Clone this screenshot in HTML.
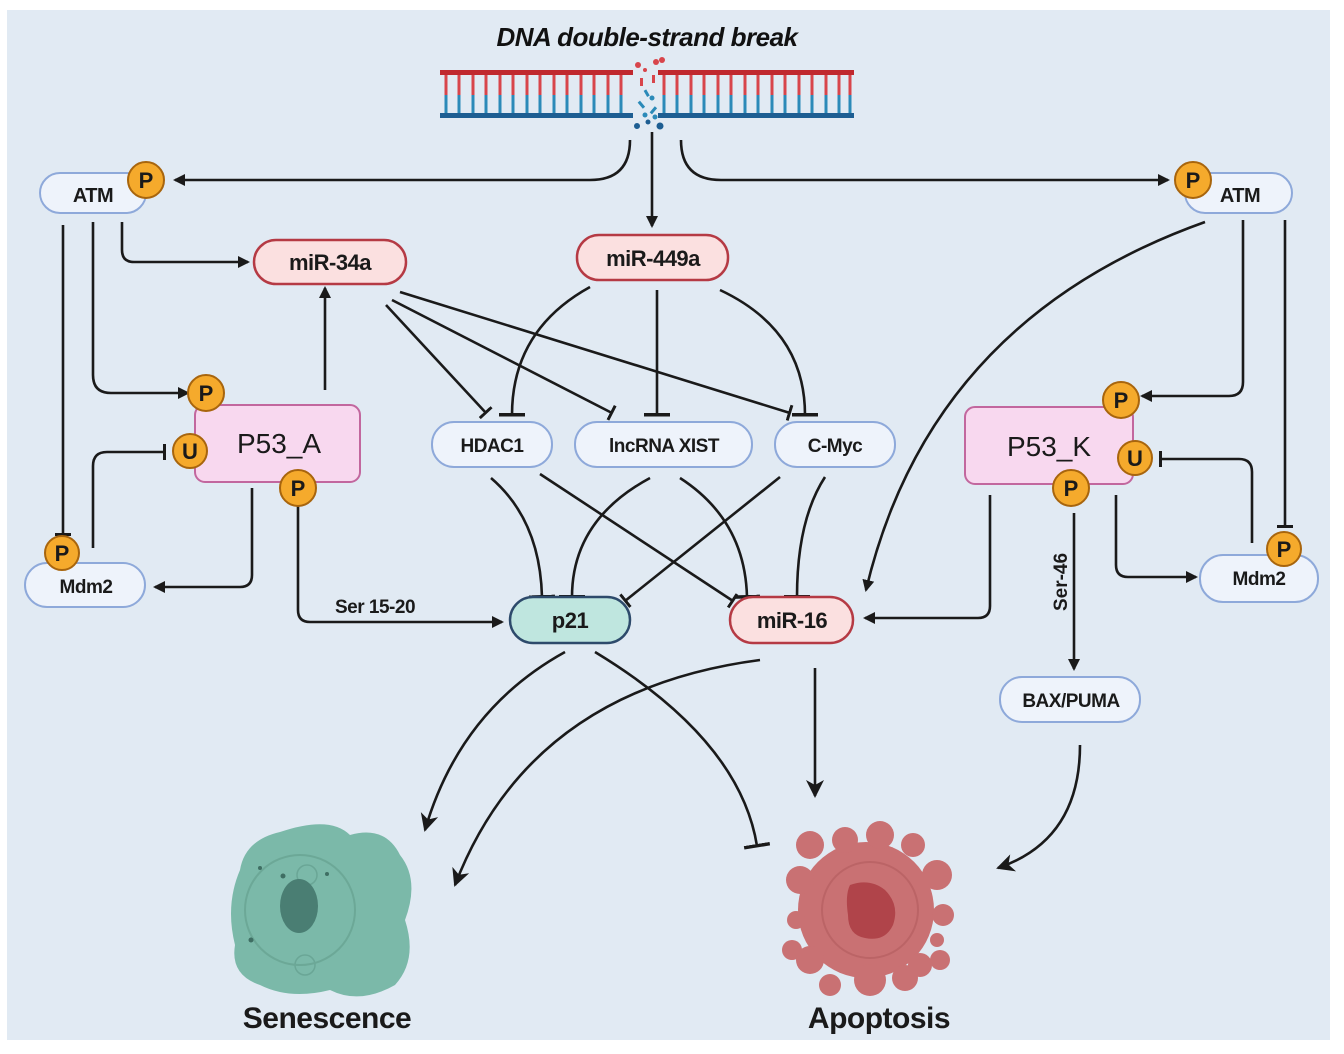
<!DOCTYPE html>
<html><head><meta charset="utf-8"><style>
html,body{margin:0;padding:0;background:#fff;}
svg{display:block;}
text{font-family:"Liberation Sans",sans-serif;}
</style></head><body>
<svg width="1344" height="1054" viewBox="0 0 1344 1054" xmlns="http://www.w3.org/2000/svg">
<defs>
<marker id="a" markerWidth="12" markerHeight="12" refX="10" refY="6" orient="auto" markerUnits="userSpaceOnUse"><path d="M0,0 L12,6 L0,12 Z" fill="#1a1a1a"/></marker>
<marker id="A" markerWidth="20" markerHeight="20" refX="16" refY="10" orient="auto" markerUnits="userSpaceOnUse"><path d="M0,1 L18,10 L0,19 L5,10 Z" fill="#1a1a1a"/></marker>
<marker id="t" markerWidth="4" markerHeight="20" refX="2" refY="10" orient="auto" markerUnits="userSpaceOnUse"><rect x="0" y="2" width="3" height="16" fill="#1a1a1a"/></marker>
<marker id="T" markerWidth="4" markerHeight="28" refX="2" refY="14" orient="auto" markerUnits="userSpaceOnUse"><rect x="0" y="1" width="3.5" height="26" fill="#1a1a1a"/></marker>
</defs>
<rect x="7" y="10" width="1323" height="1030" fill="#e1eaf3"/>

<text x="647" y="46" text-anchor="middle" font-size="26" font-weight="bold" font-style="italic" fill="#111" letter-spacing="-0.5">DNA double-strand break</text>
<g id="dna">
<rect x="440" y="70" width="193" height="5" fill="#c0282e"/>
<rect x="658" y="70" width="196" height="5" fill="#c0282e"/>
<rect x="440" y="113" width="193" height="5" fill="#1d5e92"/>
<rect x="658" y="113" width="196" height="5" fill="#1d5e92"/>
<g stroke-width="3">
<path stroke="#d8454b" d="M446,75V95M459,75V95M473,75V95M486,75V95M500,75V95M513,75V95M527,75V95M540,75V95M554,75V95M567,75V95M581,75V95M594,75V95M608,75V95M621,75V95M664,75V95M677,75V95M691,75V95M704,75V95M718,75V95M731,75V95M745,75V95M758,75V95M772,75V95M785,75V95M799,75V95M812,75V95M826,75V95M839,75V95M850,75V95"/>
<path stroke="#2b8ab8" d="M446,95V113M459,95V113M473,95V113M486,95V113M500,95V113M513,95V113M527,95V113M540,95V113M554,95V113M567,95V113M581,95V113M594,95V113M608,95V113M621,95V113M664,95V113M677,95V113M691,95V113M704,95V113M718,95V113M731,95V113M745,95V113M758,95V113M772,95V113M785,95V113M799,95V113M812,95V113M826,95V113M839,95V113M850,95V113"/>
</g>
<g fill="#d8454b"><circle cx="638" cy="65" r="3"/><circle cx="656" cy="62" r="3"/><circle cx="645" cy="70" r="2"/><rect x="640" y="78" width="3" height="8"/><rect x="652" y="75" width="3" height="8"/><circle cx="662" cy="60" r="3"/></g>
<g fill="#2b8ab8"><rect x="645" y="90" width="3" height="7" transform="rotate(-30 646 93)"/><circle cx="652" cy="98" r="2.5"/><rect x="640" y="101" width="3" height="8" transform="rotate(-40 641 105)"/><rect x="652" y="106" width="3" height="8" transform="rotate(40 653 110)"/><circle cx="645" cy="115" r="2.5"/><circle cx="655" cy="117" r="2.5"/></g>
<g fill="#1d5e92"><circle cx="637" cy="126" r="3"/><circle cx="660" cy="126" r="3.5"/><circle cx="648" cy="122" r="2.5"/></g>
</g>

<g fill="none" stroke="#1a1a1a" stroke-width="2.6">
<path d="M630,140 Q630,180 590,180 L175,180" marker-end="url(#a)"/>
<path d="M652,132 L652,226" marker-end="url(#a)"/>
<path d="M681,140 Q681,180 721,180 L1168,180" marker-end="url(#a)"/>
<path d="M63,225 L63,535" marker-end="url(#t)"/>
<path d="M93,222 L93,375 Q93,393 111,393 L188,393" marker-end="url(#a)"/>
<path d="M122,222 L122,250 Q122,262 134,262 L248,262" marker-end="url(#a)"/>
<path d="M325,390 L325,288" marker-end="url(#a)"/>
<path d="M93,548 L93,466 Q93,452 107,452 L165,452" marker-end="url(#t)"/>
<path d="M252,488 L252,575 Q252,587 240,587 L155,587" marker-end="url(#a)"/>
<path d="M298,505 L298,610 Q298,622 310,622 L502,622" marker-end="url(#a)"/>
<path d="M386,305 L486,413" marker-end="url(#t)"/>
<path d="M392,300 L612,413" marker-end="url(#t)"/>
<path d="M400,292 L790,413" marker-end="url(#t)"/>
<path d="M590,287 Q512,330 512,415" marker-end="url(#T)"/>
<path d="M657,290 L657,415" marker-end="url(#T)"/>
<path d="M720,290 Q805,330 805,415" marker-end="url(#T)"/>
<path d="M491,478 Q540,520 542,597" marker-end="url(#T)"/>
<path d="M540,474 L733,601" marker-end="url(#t)"/>
<path d="M650,478 Q572,520 572,597" marker-end="url(#T)"/>
<path d="M680,478 Q745,520 747,597" marker-end="url(#T)"/>
<path d="M780,477 L625,601" marker-end="url(#t)"/>
<path d="M825,477 Q797,520 797,597" marker-end="url(#T)"/>
<path d="M1205,222 Q930,320 866,590" marker-end="url(#a)"/>
<path d="M1243,220 L1243,382 Q1243,396 1229,396 L1142,396" marker-end="url(#a)"/>
<path d="M1285,220 L1285,527" marker-end="url(#t)"/>
<path d="M1252,543 L1252,472 Q1252,459 1239,459 L1160,459" marker-end="url(#t)"/>
<path d="M1116,495 L1116,565 Q1116,577 1128,577 L1196,577" marker-end="url(#a)"/>
<path d="M990,495 L990,606 Q990,618 978,618 L865,618" marker-end="url(#a)"/>
<path d="M1074,513 L1074,669" marker-end="url(#a)"/>
<path d="M565,652 Q460,710 425,830" marker-end="url(#A)"/>
<path d="M760,660 Q530,690 455,885" marker-end="url(#A)"/>
<path d="M595,652 Q740,740 757,846" marker-end="url(#T)"/>
<path d="M815,668 L815,796" marker-end="url(#A)"/>
<path d="M1080,745 Q1080,840 998,868" marker-end="url(#A)"/>
</g>

<g font-weight="bold" text-anchor="middle" fill="#1a1a1a" letter-spacing="-0.5">
<rect x="40" y="173" width="106" height="40" rx="20" fill="#eef3fb" stroke="#8ea9da" stroke-width="2"/>
<text x="93" y="202" font-size="20">ATM</text>
<rect x="1185" y="173" width="107" height="40" rx="20" fill="#eef3fb" stroke="#8ea9da" stroke-width="2"/>
<text x="1240" y="202" font-size="20">ATM</text>
<rect x="254" y="240" width="152" height="44" rx="22" fill="#fbe0e0" stroke="#b53a44" stroke-width="2.5"/>
<text x="330" y="270" font-size="22">miR-34a</text>
<rect x="577" y="235" width="151" height="45" rx="22" fill="#fbe0e0" stroke="#b53a44" stroke-width="2.5"/>
<text x="653" y="266" font-size="22">miR-449a</text>
<rect x="432" y="422" width="120" height="45" rx="22" fill="#eef3fb" stroke="#8ea9da" stroke-width="2"/>
<text x="492" y="452" font-size="19">HDAC1</text>
<rect x="575" y="422" width="177" height="45" rx="22" fill="#eef3fb" stroke="#8ea9da" stroke-width="2"/>
<text x="664" y="452" font-size="19">lncRNA XIST</text>
<rect x="775" y="422" width="120" height="45" rx="22" fill="#eef3fb" stroke="#8ea9da" stroke-width="2"/>
<text x="835" y="452" font-size="19">C-Myc</text>
<rect x="510" y="597" width="120" height="46" rx="23" fill="#bfe6df" stroke="#2d4a6b" stroke-width="2.5"/>
<text x="570" y="628" font-size="22">p21</text>
<rect x="730" y="597" width="123" height="46" rx="23" fill="#fbe0e0" stroke="#b53a44" stroke-width="2.5"/>
<text x="792" y="628" font-size="22">miR-16</text>
<rect x="25" y="563" width="120" height="44" rx="22" fill="#eef3fb" stroke="#8ea9da" stroke-width="2"/>
<text x="86" y="593" font-size="19">Mdm2</text>
<rect x="1200" y="555" width="118" height="47" rx="23" fill="#eef3fb" stroke="#8ea9da" stroke-width="2"/>
<text x="1259" y="585" font-size="19">Mdm2</text>
<rect x="1000" y="677" width="140" height="45" rx="22" fill="#eef3fb" stroke="#8ea9da" stroke-width="2"/>
<text x="1071" y="707" font-size="19">BAX/PUMA</text>
</g>
<rect x="195" y="405" width="165" height="77" rx="10" fill="#f8d8ef" stroke="#c2679e" stroke-width="2"/>
<text x="279" y="453" font-size="28" text-anchor="middle" fill="#1a1a1a">P53_A</text>
<rect x="965" y="407" width="168" height="77" rx="10" fill="#f8d8ef" stroke="#c2679e" stroke-width="2"/>
<text x="1049" y="456" font-size="28" text-anchor="middle" fill="#1a1a1a">P53_K</text>

<text x="335" y="613" font-size="19" font-weight="bold" fill="#1a1a1a" letter-spacing="-0.5">Ser 15-20</text>
<text transform="translate(1067,582) rotate(-90)" font-size="19" font-weight="bold" text-anchor="middle" fill="#1a1a1a">Ser-46</text>

<g font-size="22" font-weight="bold" text-anchor="middle" fill="#1a1a1a">
<g stroke="#a8650d" stroke-width="2" fill="#f5aa2c">
<circle cx="146" cy="180" r="18"/><circle cx="1193" cy="180" r="18"/>
<circle cx="206" cy="393" r="18"/><circle cx="190" cy="451" r="17"/><circle cx="298" cy="488" r="18"/>
<circle cx="62" cy="553" r="17"/>
<circle cx="1121" cy="400" r="18"/><circle cx="1135" cy="458" r="17"/><circle cx="1071" cy="488" r="18"/>
<circle cx="1284" cy="549" r="17"/>
</g>
<text x="146" y="188">P</text><text x="1193" y="188">P</text>
<text x="206" y="401">P</text><text x="190" y="459">U</text><text x="298" y="496">P</text>
<text x="62" y="561">P</text>
<text x="1121" y="408">P</text><text x="1135" y="466">U</text><text x="1071" y="496">P</text>
<text x="1284" y="557">P</text>
</g>

<path d="M280,832 Q330,815 350,835 Q385,825 400,855 Q420,880 405,920 Q418,960 395,985 Q360,1005 330,990 Q290,1000 260,985 Q230,975 235,945 Q225,905 240,870 Q245,840 280,832 Z" fill="#7bb9a9"/>
<circle cx="307" cy="875" r="10" fill="none" stroke="#6aa696" stroke-width="1.5"/>
<circle cx="305" cy="965" r="10" fill="none" stroke="#6aa696" stroke-width="1.5"/>
<ellipse cx="300" cy="910" rx="55" ry="55" fill="none" stroke="#6ca897" stroke-width="2"/>
<ellipse cx="299" cy="906" rx="19" ry="27" fill="#4a7e73"/>
<g fill="#3f6e63"><circle cx="283" cy="876" r="2.5"/><circle cx="251" cy="940" r="2.5"/><circle cx="327" cy="874" r="2"/><circle cx="260" cy="868" r="2"/></g>
<g fill="#c97173">
<circle cx="866" cy="910" r="68"/>
<circle cx="810" cy="845" r="14"/><circle cx="845" cy="840" r="13"/><circle cx="880" cy="835" r="14"/><circle cx="913" cy="845" r="12"/>
<circle cx="800" cy="880" r="14"/><circle cx="937" cy="875" r="15"/><circle cx="943" cy="915" r="11"/>
<circle cx="796" cy="920" r="9"/><circle cx="792" cy="950" r="10"/><circle cx="937" cy="940" r="7"/><circle cx="940" cy="960" r="10"/>
<circle cx="810" cy="960" r="14"/><circle cx="830" cy="985" r="11"/><circle cx="870" cy="980" r="16"/><circle cx="905" cy="978" r="13"/><circle cx="920" cy="965" r="12"/>
</g>
<ellipse cx="870" cy="910" rx="48" ry="48" fill="none" stroke="#bb6466" stroke-width="2"/>
<path d="M850,885 Q870,878 885,890 Q900,905 893,925 Q885,942 865,938 Q848,935 848,915 Q845,895 850,885 Z" fill="#b0444a"/>

<g font-size="30" font-weight="bold" text-anchor="middle" fill="#1a1a1a" letter-spacing="-0.5">
<text x="327" y="1028">Senescence</text>
<text x="879" y="1028">Apoptosis</text>
</g>
</svg>
</body></html>
